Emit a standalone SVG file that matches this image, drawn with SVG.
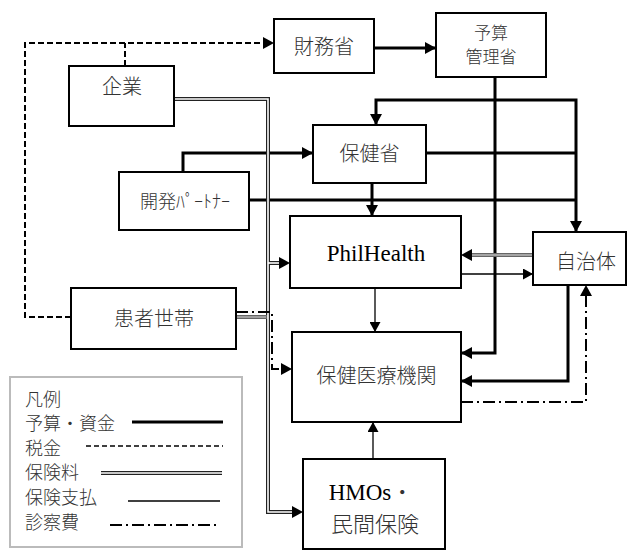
<svg xmlns="http://www.w3.org/2000/svg" width="627" height="550" viewBox="0 0 627 550">
<style>
.box{fill:#fff;stroke:#000;stroke-width:2}
.jp{font-family:"Noto Sans CJK JP","Noto Sans",sans-serif;fill:#333;font-weight:300}
.en{font-family:"Liberation Serif",serif;fill:#000;font-weight:normal}
.thick{fill:none;stroke:#000;stroke-width:3}
.thin{fill:none;stroke:#000;stroke-width:1.3}
.tax{fill:none;stroke:#000;stroke-width:2;stroke-dasharray:6 3}
.dd{fill:none;stroke:#000;stroke-width:2;stroke-dasharray:12 4 2 4}
.dbl{fill:none;stroke:#222;stroke-width:4}
.dblin{fill:none;stroke:#fff;stroke-width:1.6}
.dblg{fill:none;stroke:#666;stroke-width:4}
.dblgin{fill:none;stroke:#bbb;stroke-width:1.4}
</style>
<defs>
<marker id="ah" markerUnits="userSpaceOnUse" markerWidth="12" markerHeight="12" refX="11" refY="6" orient="auto">
<path d="M0,0 L11,6 L0,12 z" fill="#000"/>
</marker>
<marker id="ahs" markerUnits="userSpaceOnUse" markerWidth="11" markerHeight="11" refX="10" refY="5.5" orient="auto">
<path d="M0,0 L10,5.5 L0,11 z" fill="#000"/>
</marker>
</defs>

<g id="connectors">
<!-- tax -->
<path class="tax" d="M71,317 H25 V43 H263"/>
<path d="M263,37 L274,43 L263,49 z" fill="#000"/>
<path class="tax" d="M125,66 V43"/>
<!-- budget / funds -->
<path class="thick" d="M374,48 H436" marker-end="url(#ah)"/>
<path class="thick" d="M495,77 V353 H461" marker-end="url(#ah)"/>
<path class="thick" d="M495,100 H376 V125" marker-end="url(#ah)"/>
<path class="thick" d="M495,100 H576 V232" marker-end="url(#ah)"/>
<path class="thick" d="M426,153 H576"/>
<path class="thick" d="M249,200 H576"/>
<path class="thick" d="M183,172 V153 H313" marker-end="url(#ah)"/>
<path class="thick" d="M372,183 V216" marker-end="url(#ah)"/>
<path class="thick" d="M568,285 V381 H461" marker-end="url(#ah)"/>
<!-- insurance payment -->
<path class="thin" d="M461,274 H533" marker-end="url(#ahs)"/>
<path class="thin" d="M375,288 V332" marker-end="url(#ahs)"/>
<path class="thin" d="M373,459 V422" marker-end="url(#ahs)"/>
<!-- insurance premium (double) -->
<path class="dbl" d="M174,99 H268 V512 H293"/>
<path class="dbl" d="M268,263 H280"/>
<path class="dblg" d="M236,317 H268"/>
<path class="dblg" d="M533,255 H471"/>
<path class="dblin" d="M174,99 H268 V512 H293"/>
<path class="dblin" d="M268,263 H280"/>
<path class="dblgin" d="M236,317 H266"/>
<path class="dblgin" d="M533,255 H471"/>
<path d="M292,506 L303,512 L292,518 z" fill="#000"/>
<path d="M279,257 L290,263 L279,269 z" fill="#000"/>
<path d="M472,249 L461,255 L472,261 z" fill="#000"/>
<!-- consultation fee -->
<path class="dd" d="M236,312 H272 V369 H281"/>
<path d="M281,363 L292,369 L281,375 z" fill="#000"/>
<path class="dd" d="M461,402 H586 V296"/>
<path d="M580,296 L586,285 L592,296 z" fill="#000"/>
</g>

<g id="zaimusho">
<rect class="box" x="274" y="19" width="100" height="54"/>
<text class="jp" x="324" y="54" font-size="20" text-anchor="middle">財務省</text>
</g>
<g id="yosan">
<rect class="box" x="436" y="13" width="110" height="64"/>
<text class="jp" x="491" y="39" font-size="17" text-anchor="middle">予算</text>
<text class="jp" x="491" y="63" font-size="17" text-anchor="middle">管理省</text>
</g>
<g id="kigyo">
<rect class="box" x="69" y="66" width="105" height="60"/>
<text class="jp" x="122" y="94" font-size="20" text-anchor="middle">企業</text>
</g>
<g id="hokensho">
<rect class="box" x="313" y="125" width="113" height="58"/>
<text class="jp" x="369.5" y="161" font-size="20" text-anchor="middle">保健省</text>
</g>
<g id="partner">
<rect class="box" x="119" y="172" width="130" height="58"/>
<text class="jp" x="185" y="208" font-size="18" text-anchor="middle">開発ﾊﾟｰﾄﾅｰ</text>
</g>
<g id="philhealth">
<rect class="box" x="290" y="216" width="171" height="72"/>
<text class="en" x="376" y="261" font-size="23" text-anchor="middle">PhilHealth</text>
</g>
<g id="jichitai">
<rect class="box" x="533" y="232" width="93" height="53"/>
<text class="jp" x="586" y="269" font-size="20" text-anchor="middle">自治体</text>
</g>
<g id="kanja">
<rect class="box" x="71" y="288" width="165" height="61"/>
<text class="jp" x="154" y="326" font-size="20" text-anchor="middle">患者世帯</text>
</g>
<g id="iryokikan">
<rect class="box" x="292" y="332" width="169" height="90"/>
<text class="jp" x="376.5" y="383" font-size="20" text-anchor="middle">保健医療機関</text>
</g>
<g id="hmos">
<rect class="box" x="303" y="459" width="142" height="90"/>
<text x="371" y="500" font-size="23" text-anchor="middle"><tspan class="en">HMOs</tspan><tspan class="jp" font-size="22">・</tspan></text>
<text class="jp" x="375" y="532" font-size="22" text-anchor="middle">民間保険</text>
</g>

<g id="legend">
<rect x="10" y="377" width="232" height="170" fill="#fff" stroke="#bbb" stroke-width="2"/>
<g class="jp" font-size="18">
<text x="25" y="406">凡例</text>
<text x="25" y="430">予算・資金</text>
<text x="25" y="455">税金</text>
<text x="25" y="479">保険料</text>
<text x="25" y="504">保険支払</text>
<text x="25" y="529">診察費</text>
</g>
<path d="M132,422 H223" stroke="#000" stroke-width="3" fill="none"/>
<path d="M86,446 H223" stroke="#000" stroke-width="1.6" stroke-dasharray="5 3" fill="none"/>
<path d="M101,473 H222" stroke="#222" stroke-width="4" fill="none"/>
<path d="M101,473 H222" stroke="#fff" stroke-width="1.6" fill="none"/>
<path d="M128,501 H220" stroke="#000" stroke-width="1.3" fill="none"/>
<path d="M110,525 H220" stroke="#000" stroke-width="2" stroke-dasharray="12 4 2 4" fill="none"/>
</g>
</svg>
